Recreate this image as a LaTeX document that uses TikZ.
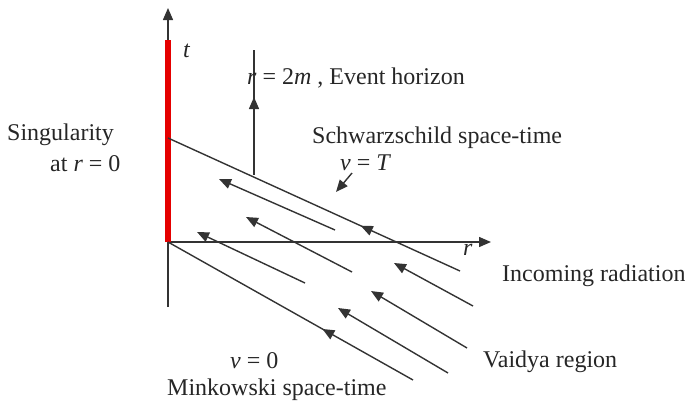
\documentclass[tikz,border=0pt]{standalone}
\usepackage{fontspec}
\setmainfont{Liberation Serif}
\usetikzlibrary{arrows.meta,decorations.markings}
\begin{document}
\begin{tikzpicture}[x=1pt,y=-1pt,
  ln/.style={draw=black!80, line width=1.4pt},
  arrowln/.style={ln,-{Triangle[length=12pt,width=10pt]}},
  lbl/.style={inner sep=0pt, anchor=base west, font=\fontsize{24}{28}\selectfont, text=black!85},
  midarrow/.style={postaction={decorate},decoration={markings,mark=at position #1 with {\arrow{Triangle[length=12pt,width=10pt]}}}}
]
\useasboundingbox (0,0) rectangle (685,402);
% coordinates
\coordinate (O) at (168,242);
\coordinate (tbot) at (168,307);
\coordinate (ttop) at (168,8);
\coordinate (rend) at (491,242);
\coordinate (redtop) at (168,40);
\coordinate (ehbot) at (254,175);
\coordinate (ehtop) at (254,50);
\coordinate (vT0) at (168,138);
\coordinate (vT1) at (460,271);
\coordinate (v01) at (413,380);
\coordinate (Atip) at (219,179); \coordinate (Aend) at (335,230);
\coordinate (Btip) at (246,217); \coordinate (Bend) at (352,272);
\coordinate (Ctip) at (197,232); \coordinate (Cend) at (305,283);
\coordinate (Dtip) at (394,263); \coordinate (Dend) at (473,306);
\coordinate (Etip) at (371,291); \coordinate (Eend) at (467,348);
\coordinate (Ftip) at (338,308); \coordinate (Fend) at (448,373);
\coordinate (vTa) at (352,173); \coordinate (vTb) at (336,192);
% axes
\draw[arrowln] (tbot) -- (ttop);
\draw[arrowln] (O) -- (rend);
\draw[red!90!black, line width=6pt] (O) -- (redtop);
% event horizon
\draw[ln, midarrow=0.624] (ehbot) -- (ehtop);
% v = T and v = 0
\draw[ln, midarrow=0.34] (vT1) -- (vT0);
\draw[ln, midarrow=0.37] (v01) -- (O);
% incoming rays
\draw[arrowln] (Aend) -- (Atip);
\draw[arrowln] (Bend) -- (Btip);
\draw[arrowln] (Cend) -- (Ctip);
\draw[arrowln] (Dend) -- (Dtip);
\draw[arrowln] (Eend) -- (Etip);
\draw[arrowln] (Fend) -- (Ftip);
\draw[arrowln] (vTa) -- (vTb);
% labels
\node[lbl] (sing) at (7,140) {Singularity};
\node[lbl] (atr) at (50,171) {at \textit{r} = 0};
\node[lbl] (tl) at (183,57) {\textit{t}};
\node[lbl] (eh) at (247,84) {\textit{r} = 2\textit{m} , Event horizon};
\node[lbl] (sch) at (312,143) {Schwarzschild space-time};
\node[lbl] (vT) at (340,170) {\textit{v} = \textit{T}};
\node[lbl] (rl) at (463,255) {\textit{r}};
\node[lbl] (inc) at (502,281) {Incoming radiation};
\node[lbl] (vai) at (483,367) {Vaidya region};
\node[lbl] (v0) at (230,368) {\textit{v} = 0};
\node[lbl] (mink) at (167,395) {Minkowski space-time};
\end{tikzpicture}
\end{document}
